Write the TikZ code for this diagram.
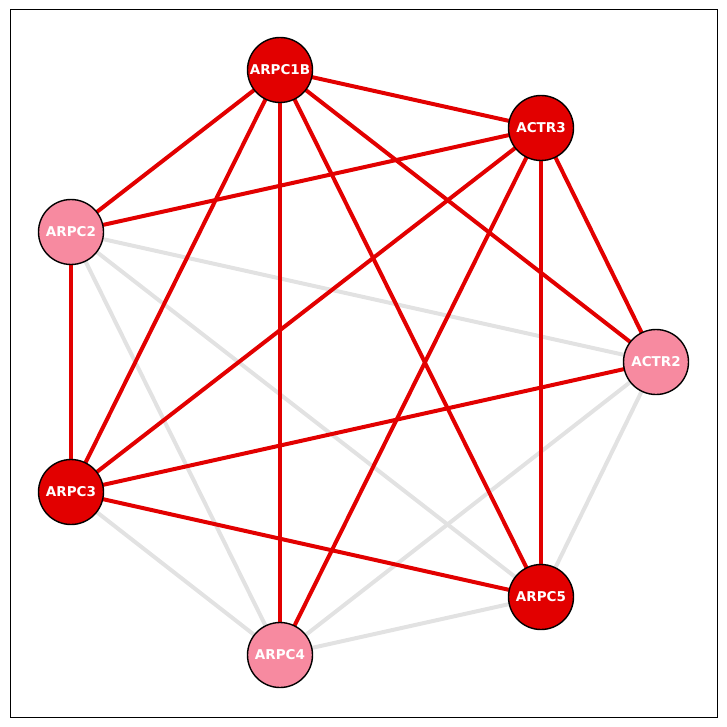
\documentclass[tikz,border=0pt]{standalone}
\usepackage{fontspec}
\setmainfont{DejaVu Sans}
\definecolor{hubred}{RGB}{226,0,0}
\definecolor{softpink}{RGB}{247,138,160}
\definecolor{edgegrey}{RGB}{226,226,226}
\begin{document}
\begin{tikzpicture}[x=1pt,y=-1pt,
  gene/.style={circle,draw=black,line width=1.4pt,minimum size=65pt,inner sep=0pt,
    text=white,font=\fontsize{13.5}{14}\selectfont\bfseries},
  hub/.style={gene,fill=hubred},
  leaf/.style={gene,fill=softpink},
  strong/.style={draw=hubred,line width=4pt},
  weak/.style={draw=edgegrey,line width=4pt}]
\useasboundingbox (0,0) rectangle (727,727);
\draw[line width=1pt] (10,10) rectangle (717,717);
\coordinate (pA) at (280,70);
\coordinate (pB) at (541,128);
\coordinate (pC) at (71,232);
\coordinate (pD) at (656,362);
\coordinate (pE) at (71,492);
\coordinate (pF) at (541,597);
\coordinate (pG) at (280,655);
% weak edges
\draw[weak] (pC) -- (pD);
\draw[weak] (pC) -- (pF);
\draw[weak] (pC) -- (pG);
\draw[weak] (pE) -- (pG);
\draw[weak] (pG) -- (pF);
\draw[weak] (pG) -- (pD);
\draw[weak] (pF) -- (pD);
% strong edges
\draw[strong] (pA) -- (pB);
\draw[strong] (pA) -- (pC);
\draw[strong] (pA) -- (pE);
\draw[strong] (pA) -- (pG);
\draw[strong] (pA) -- (pF);
\draw[strong] (pA) -- (pD);
\draw[strong] (pB) -- (pC);
\draw[strong] (pB) -- (pE);
\draw[strong] (pB) -- (pG);
\draw[strong] (pB) -- (pF);
\draw[strong] (pB) -- (pD);
\draw[strong] (pC) -- (pE);
\draw[strong] (pE) -- (pD);
\draw[strong] (pE) -- (pF);
% nodes
\node[hub] (arpc1b) at (pA) {ARPC1B};
\node[hub] (actr3) at (pB) {ACTR3};
\node[leaf] (arpc2) at (pC) {ARPC2};
\node[leaf] (actr2) at (pD) {ACTR2};
\node[hub] (arpc3) at (pE) {ARPC3};
\node[hub] (arpc5) at (pF) {ARPC5};
\node[leaf] (arpc4) at (pG) {ARPC4};
\end{tikzpicture}
\end{document}
